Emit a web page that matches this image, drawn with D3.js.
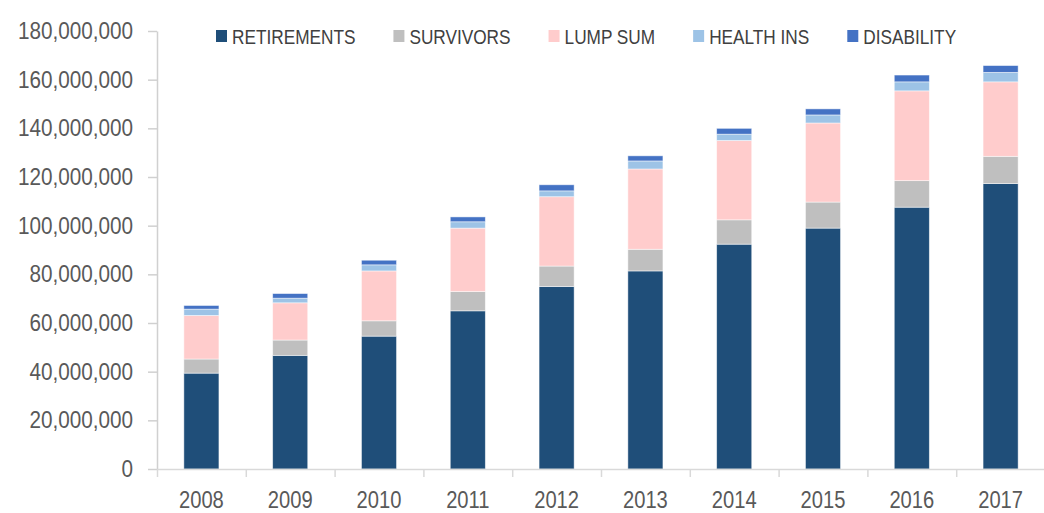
<!DOCTYPE html>
<html>
<head>
<meta charset="utf-8">
<script src="https://cdn.jsdelivr.net/npm/d3@7"></script>
<style>
  body { margin: 0; background: #fff; }
  svg { display: block; font-family: "Liberation Sans", Arial, sans-serif; }
</style>
</head>
<body>
<svg width="1044" height="513"></svg>
<script>
const years = ["2008", "2009", "2010", "2011", "2012", "2013", "2014", "2015", "2016", "2017"];
const seriesNames = ["RETIREMENTS", "SURVIVORS", "LUMP SUM", "HEALTH INS", "DISABILITY"];
const seriesColors = ["#1f4e79", "#bfbfbf", "#ffcccc", "#9dc3e6", "#4472c4"];

// values in dollars
const retirements = [39.4e6, 46.7e6, 54.6e6, 65.0e6, 75.0e6, 81.4e6, 92.4e6, 99.0e6, 107.6e6, 117.3e6];
const survivors   = [5.8e6, 6.3e6, 6.3e6, 7.9e6, 8.4e6, 8.9e6, 10.0e6, 10.7e6, 10.9e6, 11.2e6];
const lumpSum     = [17.9e6, 15.3e6, 20.5e6, 26.1e6, 28.5e6, 33.0e6, 32.6e6, 32.5e6, 36.9e6, 30.6e6];
const healthIns   = [2.6e6, 1.9e6, 2.5e6, 2.6e6, 2.4e6, 3.3e6, 2.6e6, 3.3e6, 3.7e6, 3.9e6];
const disability  = [1.5e6, 1.9e6, 1.9e6, 2.0e6, 2.5e6, 2.1e6, 2.4e6, 2.5e6, 2.8e6, 2.8e6];

const yTicks = [0, 20e6, 40e6, 60e6, 80e6, 100e6, 120e6, 140e6, 160e6, 180e6];

const svg = d3.select("svg");

const plotLeft = 157, plotRight = 1045, plotTop = 31, plotBottom = 469;

// squeeze text horizontally, the original uses a narrow face
function narrow(sel, k) {
  sel.each(function () {
    const w = this.getComputedTextLength();
    d3.select(this).attr("textLength", w * k).attr("lengthAdjust", "spacingAndGlyphs");
  });
}

const rows = years.map((y, i) => ({
  year: y,
  "RETIREMENTS": retirements[i],
  "SURVIVORS": survivors[i],
  "LUMP SUM": lumpSum[i],
  "HEALTH INS": healthIns[i],
  "DISABILITY": disability[i]
}));

const stacked = d3.stack().keys(seriesNames)(rows);

const x = d3.scaleBand().domain(years).range([plotLeft, plotRight])
  .paddingInner(0.605).paddingOuter(0.3025);
const xEdges = d3.scaleLinear().domain([0, years.length]).range([plotLeft, plotRight]);
const y = d3.scaleLinear().domain([0, 180e6]).range([plotBottom, plotTop]);
const color = d3.scaleOrdinal().domain(seriesNames).range(seriesColors);

// y axis
const yAxis = svg.append("g")
  .attr("transform", `translate(${plotLeft},0)`)
  .call(d3.axisLeft(y).tickValues(yTicks).tickFormat(d3.format(",")).tickSize(9).tickSizeOuter(0).tickPadding(15));
yAxis.select(".domain").attr("stroke", "#d0d0d0").attr("stroke-width", 1.5);
yAxis.selectAll(".tick line").attr("stroke", "#d0d0d0").attr("stroke-width", 1.5);
yAxis.selectAll(".tick text")
  .attr("fill", "#595959")
  .attr("font-size", "23px")
  .attr("font-family", "Liberation Sans, Arial, sans-serif")
  .call(narrow, 0.9);

// bars
svg.append("g")
  .selectAll("g")
  .data(stacked)
  .join("g")
  .attr("fill", d => color(d.key))
  .selectAll("rect")
  .data(d => d)
  .join("rect")
  .attr("x", d => x(d.data.year))
  .attr("width", x.bandwidth())
  .attr("y", d => y(d[1]))
  .attr("height", d => y(d[0]) - y(d[1]))
  .attr("stroke", "#ffffff")
  .attr("stroke-opacity", 0.6)
  .attr("stroke-width", 0.8);

// x axis: edge ticks
const xTickAxis = svg.append("g")
  .attr("transform", `translate(0,${plotBottom})`)
  .call(d3.axisBottom(xEdges).tickValues(d3.range(0, years.length + 1)).tickFormat("").tickSize(8).tickSizeOuter(0));
xTickAxis.select(".domain").attr("stroke", "#d9d9d9").attr("stroke-width", 1.5);
xTickAxis.selectAll(".tick line").attr("stroke", "#d9d9d9").attr("stroke-width", 1.5);

// x axis: labels
const xLabelAxis = svg.append("g")
  .attr("transform", `translate(0,${plotBottom})`)
  .call(d3.axisBottom(x).tickSize(0).tickPadding(22));
xLabelAxis.select(".domain").remove();
xLabelAxis.selectAll(".tick text")
  .attr("fill", "#595959")
  .attr("font-size", "24px")
  .attr("font-family", "Liberation Sans, Arial, sans-serif")
  .call(narrow, 0.84);

// legend
const legend = svg.append("g").attr("transform", "translate(216,30)");
let lx = 0;
seriesNames.forEach((name, i) => {
  const item = legend.append("g").attr("transform", `translate(${lx},0)`);
  item.append("rect").attr("width", 11).attr("height", 12).attr("fill", seriesColors[i]);
  const t = item.append("text")
    .attr("x", 16)
    .attr("y", 13.5)
    .attr("fill", "#404040")
    .attr("font-size", "21px")
    .text(name)
    .call(narrow, 0.82);
  lx += 16 + (+t.attr("textLength")) + 38;
});
</script>
</body>
</html>
